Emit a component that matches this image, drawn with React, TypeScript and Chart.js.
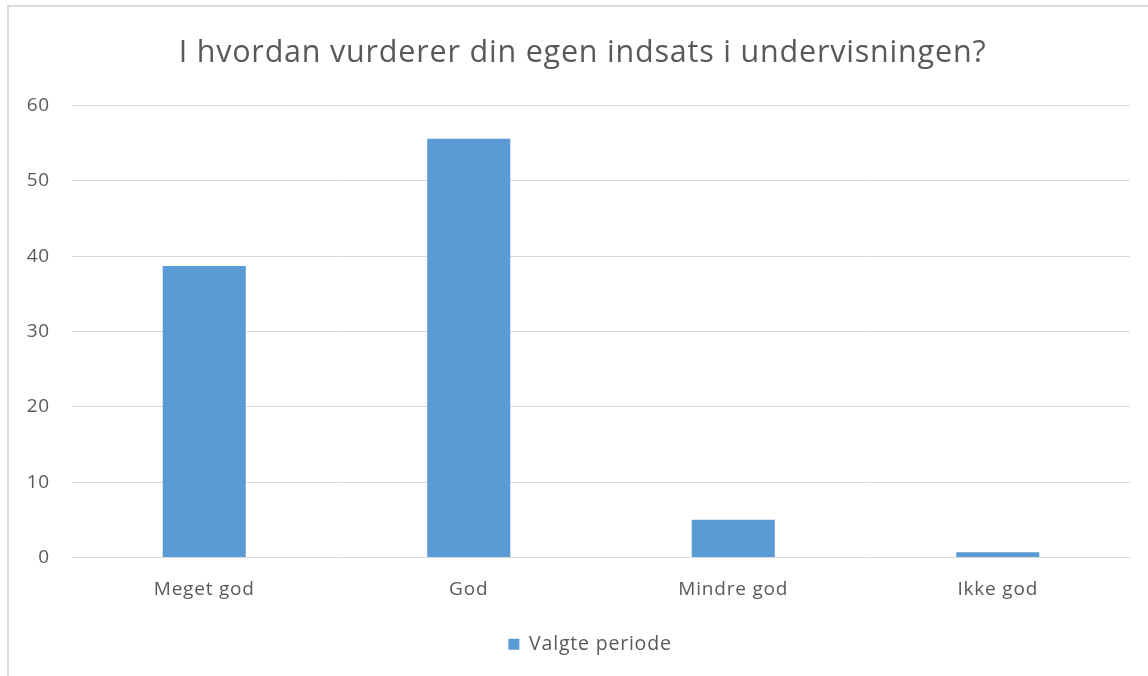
import React, { useEffect, useRef } from "react";
import { Chart, registerables } from "chart.js";

Chart.register(...registerables);

const categories = ["Meget god", "God", "Mindre god", "Ikke god"];
const seriesName = "Valgte periode";
const values = [38.7, 55.6, 5.0, 0.7];
const yTicks = [0, 10, 20, 30, 40, 50, 60];
const titleText = "I hvordan vurderer din egen indsats i undervisningen?";

const FONT = "'Open Sans', Lato, sans-serif";
const SPACING = "0.8px";

const spacingPlugin = {
  id: "spacing",
  beforeUpdate(chart: any) {
    (chart.ctx as any).letterSpacing = SPACING;
  },
  afterLayout(chart: any) {
    if (chart.titleBlock) chart.titleBlock.left += 35;
    if (chart.legend) chart.legend.left += 50;
  },
  beforeDraw(chart: any) {
    (chart.ctx as any).letterSpacing = SPACING;
  },
};

export default function App() {
  const ref = useRef<HTMLCanvasElement | null>(null);

  useEffect(() => {
    document.body.style.margin = "0";
    const ctx = ref.current;
    if (!ctx) return;
    const chart = new Chart(ctx, {
      type: "bar",
      data: {
        labels: categories,
        datasets: [
          {
            label: seriesName,
            data: values,
            backgroundColor: "#5b9bd5",
            borderWidth: 0,
            categoryPercentage: 1,
            barPercentage: 0.314,
          },
        ],
      },
      plugins: [spacingPlugin],
      options: {
        animation: false,
        responsive: false,
        maintainAspectRatio: false,
        layout: { padding: { left: 0, right: 18, top: 0, bottom: 12 } },
        plugins: {
          title: {
            display: true,
            text: titleText,
            color: "#595959",
            font: { family: FONT, size: 30.5, weight: "normal" },
            padding: { top: 35, bottom: 34 },
          },
          legend: {
            display: true,
            position: "bottom",
            labels: {
              color: "#595959",
              font: { family: FONT, size: 19.5 },
              boxWidth: 11,
              boxHeight: 11,
              padding: 9,
            },
          },
          tooltip: { enabled: false },
        },
        scales: {
          x: {
            grid: { display: false, drawTicks: false },
            border: { display: false },
            ticks: {
              color: "#595959",
              font: { family: FONT, size: 19 },
              padding: 21,
            },
            afterFit: (s: any) => {
              s.height = 68;
            },
          },
          y: {
            min: 0,
            max: 60,
            afterBuildTicks: (s: any) => {
              s.ticks = yTicks.map((v) => ({ value: v }));
            },
            grid: { color: "#d9d9d9", lineWidth: 1, drawTicks: false },
            border: { display: false },
            ticks: {
              color: "#595959",
              font: { family: FONT, size: 19 },
              padding: 22,
            },
            afterFit: (s: any) => {
              s.width = 72;
            },
          },
        },
      },
    });
    return () => chart.destroy();
  }, []);

  return (
    <div
      style={{
        position: "relative",
        width: 1148,
        height: 676,
        overflow: "hidden",
        background: "#ffffff",
      }}
    >
      <div
        style={{
          position: "absolute",
          left: 7,
          top: 5,
          width: 1300,
          height: 900,
          borderLeft: "2px solid #d9d9d9",
          borderTop: "2px solid #d9d9d9",
        }}
      />
      <canvas
        ref={ref}
        width={1148}
        height={676}
        style={{ position: "absolute", left: 0, top: 0, width: 1148, height: 676 }}
      />
    </div>
  );
}
